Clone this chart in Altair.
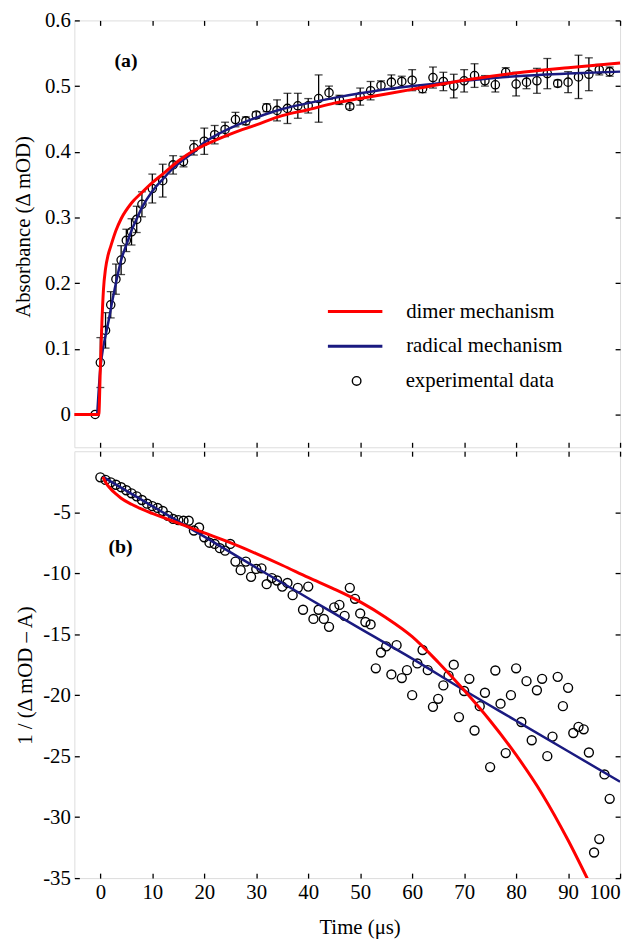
import altair as alt
import pandas as pd

FONT = "Liberation Serif"
RED = "#ff0000"
BLUE = "#1a1a80"
FS = 21

# ---------------- panel (a): absorbance ----------------
t_top = [-1, 0, 1, 2, 3, 4, 5, 6, 7, 8, 10, 12, 14, 16, 18, 20, 22, 24, 26, 28,
         30, 32, 34, 36, 38, 40, 42, 44, 46, 48, 50, 52, 54, 56, 58, 60, 62, 64,
         66, 68, 70, 72, 74, 76, 78, 80, 82, 84, 86, 88, 90, 92, 94, 96, 98]
a_top = [0.0, 0.079, 0.128, 0.167, 0.206, 0.235, 0.265, 0.278, 0.297, 0.320,
         0.344, 0.356, 0.380, 0.385, 0.406, 0.416, 0.426, 0.434, 0.449, 0.447,
         0.456, 0.467, 0.463, 0.466, 0.470, 0.470, 0.481, 0.490, 0.479, 0.469,
         0.484, 0.493, 0.501, 0.506, 0.507, 0.509, 0.496, 0.513, 0.507, 0.500,
         0.508, 0.516, 0.508, 0.502, 0.521, 0.503, 0.506, 0.508, 0.519, 0.504,
         0.506, 0.514, 0.518, 0.525, 0.522]
e_top = [0.0, 0.038, 0.027, 0.020, 0.023, 0.022, 0.017, 0.020, 0.020, 0.019,
         0.022, 0.025, 0.014, 0.008, 0.011, 0.020, 0.014, 0.011, 0.011, 0.006,
         0.005, 0.006, 0.016, 0.023, 0.019, 0.011, 0.036, 0.010, 0.007, 0.004,
         0.013, 0.014, 0.007, 0.011, 0.008, 0.016, 0.006, 0.016, 0.014, 0.018,
         0.017, 0.018, 0.008, 0.011, 0.007, 0.018, 0.010, 0.019, 0.023, 0.005,
         0.016, 0.033, 0.025, 0.008, 0.007]

dimer_top_t = [-5, -0.3, 0, 0.3, 0.6, 1, 1.5, 2, 3, 4, 6, 8, 10, 12, 15, 18, 20,
               25, 30, 35, 40, 45, 50, 55, 60, 70, 80, 90, 100]
dimer_top_v = [0.0, 0.0, 0.07, 0.14, 0.19, 0.222, 0.243, 0.256, 0.28, 0.298,
               0.322, 0.338, 0.353, 0.366, 0.386, 0.402, 0.41, 0.427, 0.441,
               0.455, 0.464, 0.474, 0.481, 0.488, 0.495, 0.509, 0.52, 0.528, 0.535]
radical_top_t = [-0.6, 0, 0.5, 1, 1.6, 2, 3, 4, 5, 6, 7, 8, 10, 12, 14, 16, 18,
                 20, 22, 25, 30, 35, 40, 45, 50, 60, 70, 80, 90, 100]
radical_top_v = [0.0, 0.07, 0.1, 0.12, 0.143, 0.16, 0.2, 0.235, 0.258, 0.28,
                 0.298, 0.315, 0.34, 0.358, 0.375, 0.388, 0.4, 0.414, 0.424,
                 0.436, 0.452, 0.465, 0.474, 0.482, 0.489, 0.5, 0.508, 0.515,
                 0.519, 0.522]

# ---------------- panel (b): 1/(dmOD - A) ----------------
t_bot = list(range(0, 99))
b_bot = [-2.14, -2.35, -2.55, -2.75, -2.95, -3.2, -3.45, -3.7, -4.0, -4.3,
         -4.5, -4.65, -4.9, -5.3, -5.55, -5.65, -5.7, -5.7, -6.5, -6.25,
         -7.05, -7.5, -7.6, -7.95, -8.15, -7.6, -9.05, -9.75, -9.05, -10.3,
         -9.65, -9.6, -10.9, -10.4, -10.6, -11.1, -10.8, -11.8, -11.2, -13.0,
         -11.1, -13.75, -13.0, -13.75, -14.4, -12.8, -12.6, -13.5, -11.2, -12.1,
         -13.3, -14.0, -14.2, -17.8, -16.5, -16.0, -18.3, -15.9, -18.6, -17.95,
         -20.0, -17.4, -16.3, -17.95, -20.96, -20.3, -19.2, -18.4, -17.5, -21.8,
         -19.66, -18.66, -22.9, -20.9, -19.8, -25.9, -17.98, -20.7, -24.75, -20.0,
         -17.8, -22.2, -18.85, -23.7, -19.6, -18.66, -25.0, -23.4, -18.5, -20.9,
         -19.4, -23.1, -22.6, -22.8, -24.7, -32.9, -31.8, -26.5, -28.5]

dimer_bot_t = [0.5, 1, 2, 3, 4, 6, 8, 10, 15, 20, 25, 30, 35, 40, 45, 50, 55,
               60, 65, 70, 75, 80, 85, 90, 94]
dimer_bot_v = [-2.1, -2.55, -3.1, -3.5, -3.85, -4.35, -4.75, -5.1, -5.9, -6.7,
               -7.5, -8.4, -9.35, -10.35, -11.3, -12.35, -13.65, -15.2, -17.3,
               -19.6, -22.1, -24.9, -28.1, -31.9, -35.3]
radical_bot_t = [0.5, 10, 20, 30, 40, 50, 60, 70, 80, 90, 100]
radical_bot_v = [-2.1, -4.5, -7.0, -9.55, -12.05, -14.55, -17.0, -19.6, -22.1,
                 -24.6, -27.1]

MODELS = ["dimer mechanism", "radical mechanism"]
POINT_LABEL = "experimental data"

x_ticks = [0, 10, 20, 30, 40, 50, 60, 70, 80, 90, 100]
y_ticks_top = [0, 0.1, 0.2, 0.3, 0.4, 0.5, 0.6]
y_ticks_bot = [-35, -30, -25, -20, -15, -10, -5]

panel_labels_top = pd.DataFrame({"t": [4.95], "v": [0.538], "txt": ["(a)"]})
panel_labels_bot = pd.DataFrame({"t": [3.9], "v": [-7.85], "txt": ["(b)"]})

# ---------------- data frames ----------------
pts_top = pd.DataFrame({"t": t_top, "v": a_top, "e": e_top,
                        "series": [POINT_LABEL] * len(t_top)})
pts_top["lo"] = pts_top["v"] - pts_top["e"]
pts_top["hi"] = pts_top["v"] + pts_top["e"]
err_top = pts_top[pts_top["e"] > 0]

dimer_top = pd.DataFrame({"t": dimer_top_t, "v": dimer_top_v, "model": MODELS[0]})
radical_top = pd.DataFrame({"t": radical_top_t, "v": radical_top_v, "model": MODELS[1]})

pts_bot = pd.DataFrame({"t": t_bot, "v": b_bot})
dimer_bot = pd.DataFrame({"t": dimer_bot_t, "v": dimer_bot_v})
radical_bot = pd.DataFrame({"t": radical_bot_t, "v": radical_bot_v})

W, H = 551, 431
xscale = alt.Scale(domain=[-5, 100], nice=False, zero=False)
yscale_top = alt.Scale(domain=[-0.05, 0.6], nice=False, zero=False)
yscale_bot = alt.Scale(domain=[-35, 0], nice=False, zero=False)

AX = dict(domain=False, grid=False, tickSize=5, offset=-5, tickColor="black",
          tickWidth=1.3, labelColor="black", titleColor="black",
          labelFont=FONT, labelFontSize=FS, titleFont=FONT, titleFontSize=FS,
          titleFontWeight="normal")

x_bottom_nolab = alt.Axis(orient="bottom", values=x_ticks, labels=False, title=None, **AX)
x_bottom_lab = alt.Axis(orient="bottom", values=x_ticks, labelPadding=4,
                        title="Time  (\u03bcs)", titlePadding=14, titleX=288, **AX)
x_top = alt.Axis(orient="top", values=x_ticks, labels=False, title=None, **AX)

y_left_top = alt.Axis(orient="left", values=y_ticks_top, labelExpr="'' + datum.value",
                      labelPadding=4, title="Absorbance  (\u0394 mOD)", titlePadding=11,
                      titleY=208, **AX)
y_left_bot = alt.Axis(orient="left", values=y_ticks_bot, labelExpr="'' + datum.value",
                      labelPadding=4, title="1 / (\u0394 mOD \u2013 A)", titlePadding=7,
                      titleY=226, **AX)
y_right_top = alt.Axis(orient="right", values=y_ticks_top, labels=False, title=None, **AX)
y_right_bot = alt.Axis(orient="right", values=y_ticks_bot, labels=False, title=None, **AX)

color_enc = alt.Color(
    "model:N",
    scale=alt.Scale(domain=MODELS, range=[RED, BLUE]),
    legend=alt.Legend(title=None, orient="none", legendX=254.5, legendY=276.5,
                      symbolType="stroke", symbolSize=3025, symbolStrokeWidth=3,
                      clipHeight=35, rowPadding=0, padding=0, labelOffset=22.5,
                      labelFont=FONT, labelFontSize=FS, labelColor="black"),
)
shape_enc = alt.Shape(
    "series:N",
    scale=alt.Scale(domain=[POINT_LABEL], range=["circle"]),
    legend=alt.Legend(title=None, orient="none", legendX=274.5, legendY=353.5,
                      symbolSize=75, symbolStrokeColor="black", symbolStrokeWidth=1.4,
                      symbolFillColor="transparent", padding=0, labelOffset=39,
                      labelFont=FONT, labelFontSize=FS, labelColor="black"),
)


def xenc(axis):
    return alt.X("t:Q", scale=xscale, axis=axis)


# ---------------- top panel ----------------
yt = lambda: alt.Y("v:Q", scale=yscale_top, axis=y_left_top)

bars = alt.Chart(err_top).mark_rule(color="black", strokeWidth=1.3).encode(
    x=xenc(x_bottom_nolab),
    y=alt.Y("lo:Q", scale=yscale_top, axis=y_left_top),
    y2="hi:Q")
cap_lo = alt.Chart(err_top).mark_tick(color="black", orient="horizontal", size=8,
                                      thickness=1.3).encode(
    x=xenc(x_bottom_nolab), y=alt.Y("lo:Q", scale=yscale_top, axis=y_left_top))
cap_hi = alt.Chart(err_top).mark_tick(color="black", orient="horizontal", size=8,
                                      thickness=1.3).encode(
    x=xenc(x_bottom_nolab), y=alt.Y("hi:Q", scale=yscale_top, axis=y_left_top))
points_top = alt.Chart(pts_top).mark_point(shape="circle", filled=False, color="black",
                                           size=70, strokeWidth=1.3, opacity=1).encode(
    x=xenc(x_bottom_nolab), y=yt(), shape=shape_enc)
rad_top = alt.Chart(radical_top).mark_line(strokeWidth=2.5, interpolate="monotone").encode(
    x=xenc(x_bottom_nolab), y=yt(), color=color_enc)
dim_top = alt.Chart(dimer_top).mark_line(strokeWidth=3, interpolate="monotone").encode(
    x=xenc(x_bottom_nolab), y=yt(), color=color_enc)
lab_top = alt.Chart(panel_labels_top).mark_text(font=FONT, fontSize=20, fontWeight="bold",
                                                color="black").encode(
    x=xenc(x_bottom_nolab), y=yt(), text="txt:N")

main_top = alt.layer(bars, cap_lo, cap_hi, points_top, rad_top, dim_top, lab_top)
frame_top = alt.Chart(pts_top).mark_point(opacity=0).encode(
    x=alt.X("t:Q", scale=xscale, axis=x_top),
    y=alt.Y("v:Q", scale=yscale_top, axis=y_right_top))
top = alt.layer(main_top, frame_top).resolve_axis(x="independent", y="independent") \
    .properties(width=W, height=H)

# ---------------- bottom panel ----------------
yb = lambda: alt.Y("v:Q", scale=yscale_bot, axis=y_left_bot)
points_bot = alt.Chart(pts_bot).mark_point(shape="circle", filled=False, color="black",
                                           size=82, strokeWidth=1.4, opacity=1).encode(
    x=xenc(x_bottom_lab), y=yb())
rad_bot = alt.Chart(radical_bot).mark_line(strokeWidth=2.5, color=BLUE,
                                           interpolate="monotone", clip=True).encode(
    x=xenc(x_bottom_lab), y=yb())
dim_bot = alt.Chart(dimer_bot).mark_line(strokeWidth=3, color=RED,
                                         interpolate="monotone", clip=True).encode(
    x=xenc(x_bottom_lab), y=yb())
lab_bot = alt.Chart(panel_labels_bot).mark_text(font=FONT, fontSize=20, fontWeight="bold",
                                                color="black").encode(
    x=xenc(x_bottom_lab), y=yb(), text="txt:N")
main_bot = alt.layer(points_bot, rad_bot, dim_bot, lab_bot)
frame_bot = alt.Chart(pts_bot).mark_point(opacity=0).encode(
    x=alt.X("t:Q", scale=xscale, axis=x_top),
    y=alt.Y("v:Q", scale=yscale_bot, axis=y_right_bot))
bottom = alt.layer(main_bot, frame_bot).resolve_axis(x="independent", y="independent") \
    .properties(width=W, height=H)

chart = alt.vconcat(top, bottom, spacing=0).properties(
    padding={"left": 4, "top": -4, "right": 0, "bottom": 0}
).configure_view(stroke="black", strokeWidth=1.5).configure(
    background="white", font=FONT
).configure_axis(labelFont=FONT, titleFont=FONT).configure_legend(labelFont=FONT)

chart.save("out.html", embed_options={"renderer": "svg", "actions": False})
